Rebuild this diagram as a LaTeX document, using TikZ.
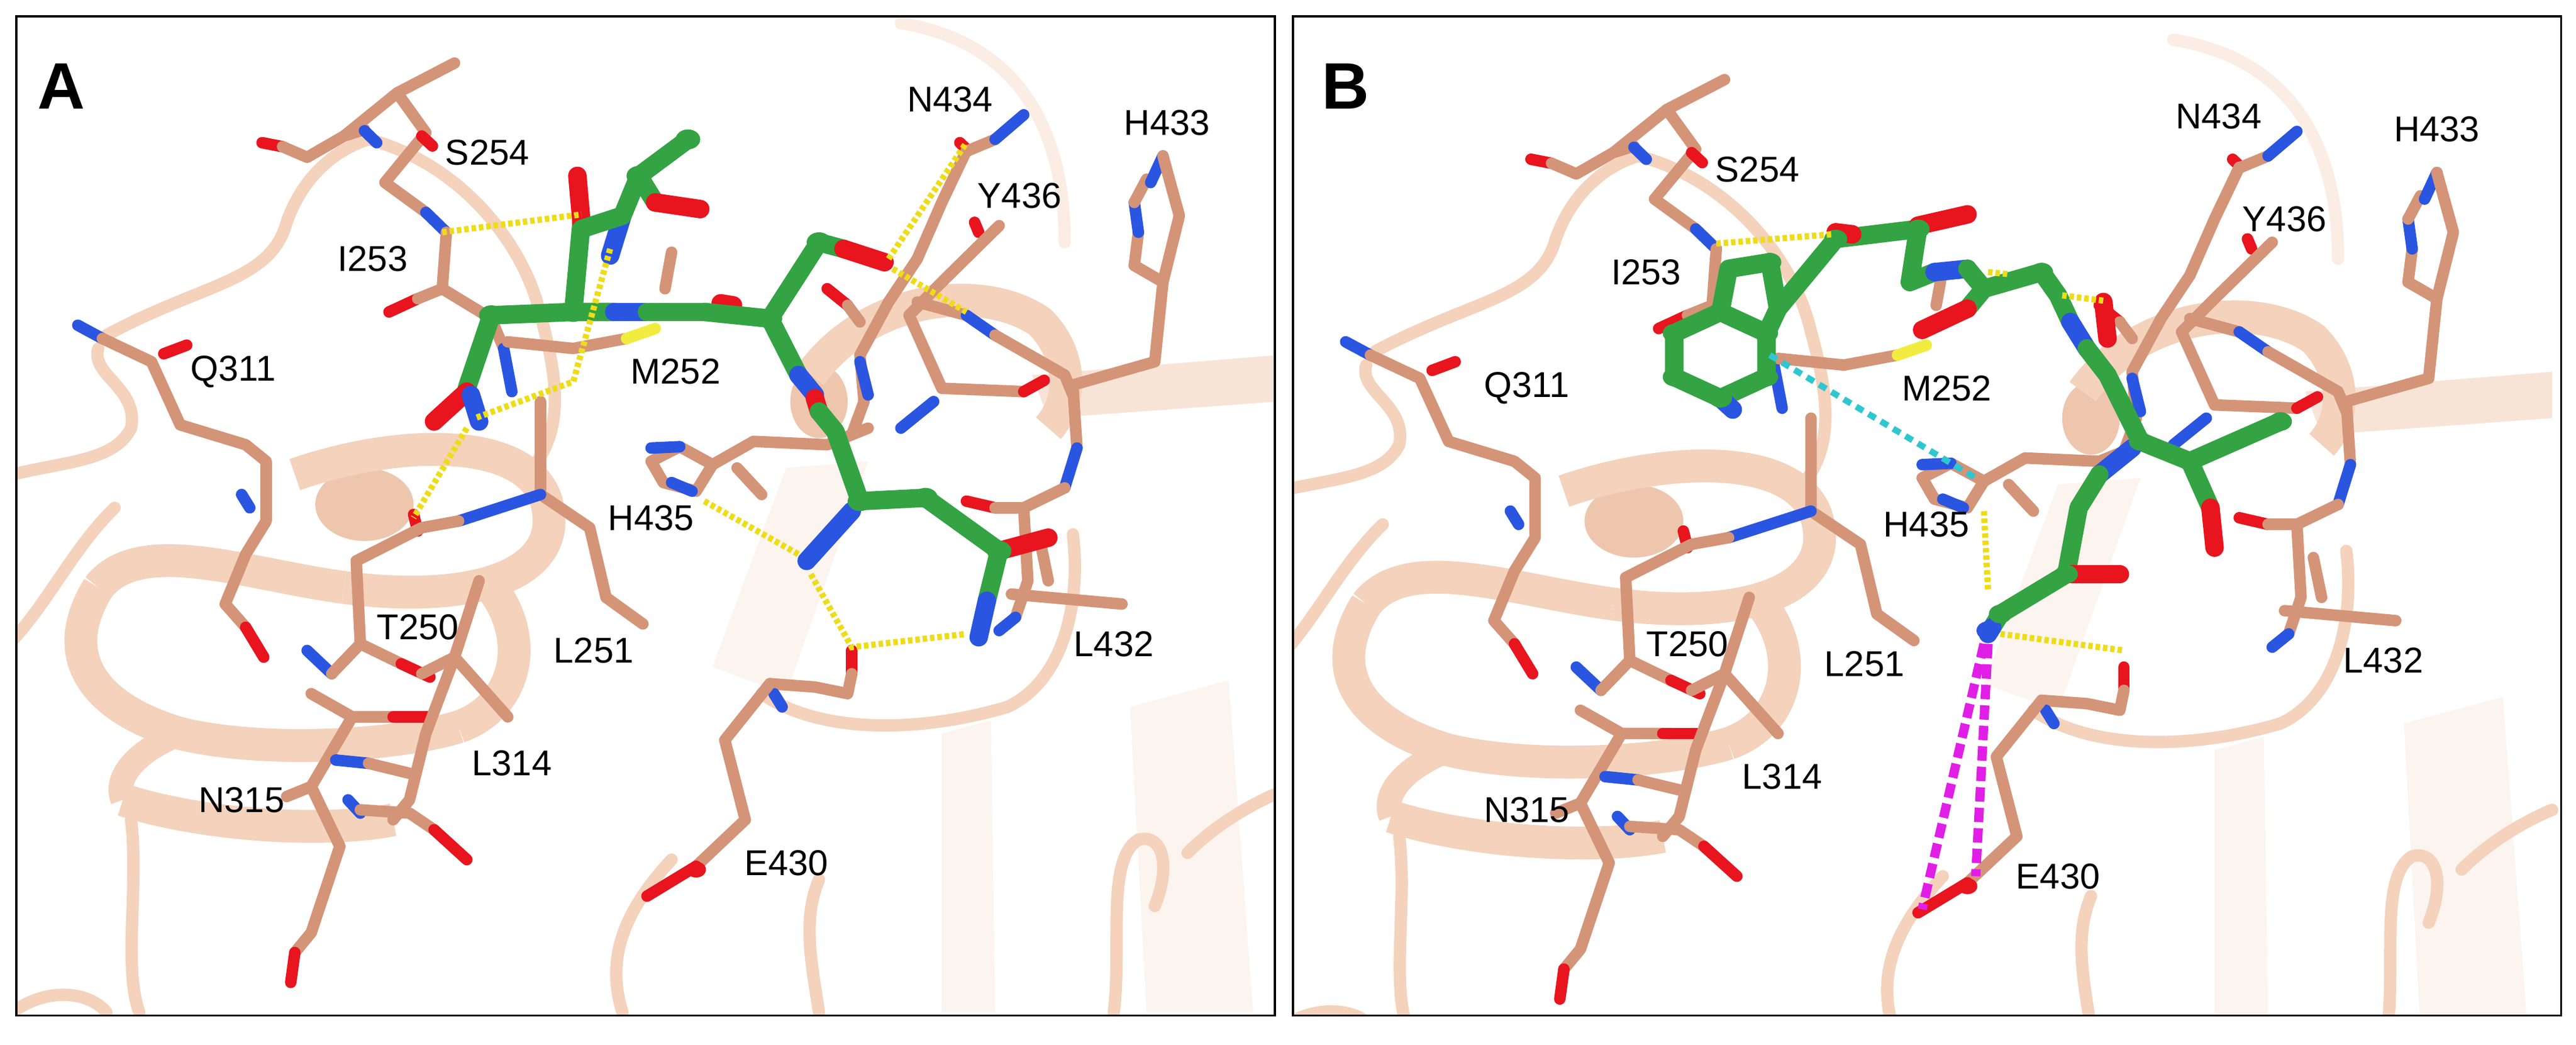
\documentclass[tikz,border=0pt]{standalone}
\usepackage{fontspec}
\setmainfont{Liberation Sans}
\begin{document}
\begin{tikzpicture}[x=0.02815cm,y=-0.02815cm,
 rib/.style={draw=ribc,line width=6pt,line cap=round},
 ribw/.style={draw=ribc,line width=16pt},
 stk/.style={draw=salm,line width=5.6pt,line cap=round,line join=round},
 O/.style={draw=ored,line width=5.6pt,line cap=round},
 N/.style={draw=nblue,line width=5.6pt,line cap=round},
 S/.style={draw=syel,line width=5.6pt,line cap=round},
 lig/.style={draw=ligc,line width=9pt,line cap=round,line join=round},
 ligO/.style={draw=ored,line width=9pt,line cap=round},
 ligN/.style={draw=nblue,line width=9pt,line cap=round},
 ball/.style={fill=ligc},
 hb/.style={draw=hyel,line width=3pt,dash pattern=on 2.2pt off 1.4pt},
 cy/.style={draw=cyn,line width=3pt,dash pattern=on 4pt off 3pt},
 mg/.style={draw=mag,line width=4.5pt,dash pattern=on 7pt off 3pt},
 lab/.style={font=\fontsize{17.5}{19}\selectfont,text=black,inner sep=0pt},
 pl/.style={font=\fontsize{32}{34}\selectfont\bfseries,inner sep=0pt}]
\definecolor{ribc}{HTML}{F4D2BC}
\definecolor{salm}{HTML}{D49478}
\definecolor{ored}{HTML}{E8141E}
\definecolor{nblue}{HTML}{2A55E0}
\definecolor{syel}{HTML}{F2EC40}
\definecolor{ligc}{HTML}{34A343}
\definecolor{hyel}{HTML}{EEDC18}
\definecolor{cyn}{HTML}{2FC6D2}
\definecolor{mag}{HTML}{E01EE6}
\useasboundingbox (0,0) rectangle (1568,636);
\fill[white] (0,0) rectangle (1568,636);
\newcommand{\protein}{%
 % faint sheets
 \fill[ribc!25] (1150,1100) -- (1210,1080) -- (1215,1520) -- (1150,1520) -- cycle;
 \fill[ribc!25] (1380,1060) -- (1500,1020) -- (1530,1520) -- (1400,1520) -- cycle;
 \fill[ribc!25] (870,1000) -- (960,700) -- (1060,690) -- (960,1040) -- cycle;
 \draw[rib,draw=ribc!40] (1100,30) .. controls (1250,60) and (1300,200) .. (1300,360);
 \fill[ribc!60] (1260,560) -- (1560,530) -- (1560,600) -- (1280,625) -- cycle;
 % loops
 \draw[rib] (15,710) .. controls (80,690) and (140,690) .. (160,640) .. controls (170,580) and (110,560) .. (120,520);
 \draw[rib] (15,960) .. controls (60,900) and (90,820) .. (140,760);
 \draw[rib] (130,500) .. controls (250,420) and (330,420) .. (350,330) .. controls (370,260) and (410,220) .. (450,205);
 \draw[rib] (450,205) .. controls (560,240) and (640,360) .. (660,470) .. controls (680,560) and (690,640) .. (650,700);
 \draw[rib] (15,1520) .. controls (60,1480) and (110,1490) .. (130,1520);
 \draw[rib] (160,1230) .. controls (170,1330) and (150,1450) .. (170,1520);
 \draw[rib] (760,1520) .. controls (740,1440) and (760,1370) .. (820,1290);
 \draw[rib] (930,1040) .. controls (1000,1100) and (1120,1100) .. (1230,1060) .. controls (1300,1020) and (1320,900) .. (1310,800);
 \draw[rib] (1360,1520) .. controls (1370,1420) and (1350,1290) .. (1390,1260) .. controls (1420,1250) and (1430,1300) .. (1410,1360);
 \draw[rib] (1450,1280) .. controls (1490,1230) and (1540,1200) .. (1560,1190);
 \draw[rib] (1000,1520) .. controls (990,1440) and (980,1380) .. (1000,1320);
 % helix left
 \fill[ribc!80!salm] (445,755) ellipse (60 and 55);
 \draw[ribw] (360,710) .. controls (500,650) and (680,650) .. (670,790) .. controls (660,880) and (540,900) .. (420,880);
 \draw[ribw] (420,880) .. controls (300,860) and (170,800) .. (120,880);
 \draw[ribw] (120,880) .. controls (70,980) and (110,1060) .. (220,1100) .. controls (320,1130) and (480,1120) .. (560,1090);
 \draw[ribw] (600,880) .. controls (650,960) and (630,1060) .. (560,1090);
 \draw[ribw] (150,1200) .. controls (250,1240) and (400,1250) .. (480,1230);
 \draw[ribw,line width=12pt] (220,1100) .. controls (160,1130) and (140,1170) .. (150,1200);
 % helix right
 \fill[ribc!80!salm] (1000,600) ellipse (35 and 55);
 \draw[ribw] (990,560) .. controls (1060,440) and (1200,420) .. (1270,480) .. controls (1310,530) and (1310,600) .. (1280,640);
 % S254 / I253
 \draw[O] (320,210) -- (345,216);
 \draw[stk] (345,216) -- (375,232) -- (420,200) -- (485,135) -- (520,195) -- (470,270) -- (520,315);
 \draw[stk] (420,200) -- (445,190); \draw[N] (445,192) -- (460,210);
 \draw[stk] (485,135) -- (555,90);
 \draw[O] (515,200) -- (528,215);
 \draw[N] (520,315) -- (545,345);
 \draw[stk] (545,345) -- (540,430) -- (600,475) -- (615,520);
 \draw[O] (475,465) -- (510,445); \draw[stk] (510,445) -- (540,430);
 \draw[N] (615,520) -- (625,585);
 % Q311
 \draw[N] (95,485) -- (125,505);
 \draw[stk] (125,505) -- (185,540) -- (220,635) -- (300,665) -- (325,690) -- (325,780) -- (300,830) -- (275,905) -- (300,940);
 \draw[O] (200,528) -- (228,515); \draw[O] (300,940) -- (322,985);
 \draw[N] (295,740) -- (305,760);
 % T250 / L251
 \draw[stk] (660,600) -- (660,740) -- (720,790) -- (740,895) -- (785,935);
 \draw[N] (660,740) -- (560,780); \draw[stk] (560,780) -- (515,790);
 \draw[O] (505,770) -- (510,795);
 \draw[stk] (515,790) -- (435,840) -- (440,965) -- (490,995);
 \draw[O] (490,995) -- (525,1015);
 \draw[N] (375,975) -- (405,1010); \draw[stk] (405,1010) -- (440,965);
 \draw[stk] (380,1040) -- (430,1075) -- (490,1075);
 \draw[O] (480,1075) -- (525,1075);
 % L314 / N315
 \draw[stk] (585,870) -- (555,985) -- (515,1010);
 \draw[stk] (555,985) -- (620,1075);
 \draw[stk] (555,985) -- (520,1100) -- (500,1200) -- (480,1230);
 \draw[stk] (350,1195) -- (380,1180) -- (430,1075);
 \draw[stk] (380,1180) -- (415,1270) -- (380,1400) -- (360,1430);
 \draw[O] (360,1430) -- (355,1475);
 \draw[N] (410,1140) -- (450,1145); \draw[stk] (450,1145) -- (500,1160);
 \draw[N] (425,1200) -- (440,1220);
 \draw[stk] (440,1215) -- (500,1220) -- (530,1245);
 \draw[O] (530,1245) -- (570,1290);
 % M252
 \draw[stk] (620,510) -- (700,520) -- (765,505);
 \draw[S] (765,505) -- (800,490);
 \draw[stk] (820,375) -- (812,430);
 % H435
 \draw[stk] (795,690) -- (830,668) -- (870,695) -- (850,735) -- (810,722) -- cycle;
 \draw[N] (795,670) -- (830,668); \draw[N] (820,722) -- (845,735);
 \draw[stk] (870,695) -- (920,660) -- (1010,665) -- (1060,640);
 \draw[stk] (900,700) -- (930,740);
 % right side
 \draw[O] (1172,210) -- (1182,222);
 \draw[stk] (1182,222) -- (1215,205); \draw[N] (1215,205) -- (1250,168);
 \draw[stk] (1180,222) -- (1150,300) -- (1120,385) -- (1085,450) -- (1050,530) -- (1055,600) -- (1040,650);
 \draw[N] (1050,540) -- (1060,590);
 \draw[O] (1190,330) -- (1195,345);
 \draw[stk] (1220,335) -- (1150,420) -- (1110,470) -- (1150,580) -- (1250,585);
 \draw[O] (1250,585) -- (1275,568);
 \draw[N] (1100,640) -- (1140,600);
 \draw[O] (1010,430) -- (1035,455); \draw[stk] (1035,455) -- (1050,480);
 \draw[stk] (1120,450) -- (1180,470); \draw[N] (1180,470) -- (1215,500);
 \draw[stk] (1215,500) -- (1300,560) -- (1310,590);
 \draw[stk] (1385,395) -- (1390,345); \draw[N] (1390,345) -- (1385,300);
 \draw[stk] (1385,300) -- (1400,265); \draw[N] (1405,270) -- (1420,230);
 \draw[stk] (1420,230) -- (1440,320) -- (1420,420) -- (1385,395);
 \draw[stk] (1420,420) -- (1410,540) -- (1310,575) -- (1315,670);
 \draw[N] (1315,670) -- (1300,730);
 \draw[stk] (1300,730) -- (1250,760) -- (1255,870) -- (1240,925);
 \draw[O] (1180,750) -- (1215,760); \draw[stk] (1215,760) -- (1250,760);
 \draw[N] (1240,925) -- (1220,945);
 \draw[stk] (1235,890) -- (1370,905);
 \draw[stk] (1270,810) -- (1280,870);
 % E430
 \draw[O] (1040,975) -- (1040,1010);
 \draw[stk] (1040,1010) -- (1035,1040) -- (995,1030) -- (940,1025);
 \draw[N] (945,1040) -- (955,1060);
 \draw[stk] (940,1025) -- (885,1110) -- (910,1230) -- (850,1300);
 \draw[O] (850,1300) -- (790,1345); \draw[fill=ored,draw=none] (850,1305) circle (12);
}
% ========== Panel A ==========
\begin{scope}[shift={(0,2)},xscale=0.4985,yscale=0.404]
 \protein
 \draw[lig] (600,470) -- (700,465) -- (750,465);
 \draw[ligN] (750,465) -- (790,465);
 \draw[lig] (790,465) -- (860,465);
 \draw[ligO] (880,452) -- (895,455);
 \draw[lig] (860,465) -- (940,475) -- (975,560);
 \draw[ligN] (975,560) -- (995,590);
 \draw[ligO] (995,595) -- (1000,615);
 \draw[lig] (1000,615) -- (1020,645) -- (1050,750) -- (1130,745) -- (1220,825);
 \draw[ligO] (1220,825) -- (1280,805);
 \draw[ligN] (1040,765) -- (985,840);
 \draw[lig] (1220,825) -- (1205,900); \draw[ligN] (1205,900) -- (1195,955);
 \draw[lig] (600,470) -- (570,580);
 \draw[ligO] (570,585) -- (530,630); \draw[ligN] (575,590) -- (585,630);
 \draw[lig] (700,465) -- (710,330);
 \draw[ligO] (710,330) -- (705,260);
 \draw[ligN] (745,380) -- (760,320);
 \draw[lig] (710,340) -- (760,320) -- (780,260) -- (840,205);
 \draw[lig] (780,260) -- (800,300);
 \draw[ligO] (800,300) -- (855,310);
 \draw[lig] (940,475) -- (1000,360) -- (1030,370);
 \draw[ligO] (1030,370) -- (1080,390);
 \foreach \p in {(840,205),(780,260),(600,470),(700,465),(940,475),(1000,360),(1050,750),(1130,745),(1220,825)} \fill[ligc] \p circle (15);
 \draw[hb] (540,345) -- (710,318);
 \draw[hb] (745,370) -- (700,570) -- (580,625);
 \draw[hb] (570,640) -- (505,775);
 \draw[hb] (860,750) -- (975,830);
 \draw[hb] (990,860) -- (1040,970) -- (1180,950);
 \draw[hb] (1085,385) -- (1180,210);
 \draw[hb] (1090,400) -- (1180,465);
 \node[pl] (pA) at (75,125) {A};
 \node[lab] (a1) at (595,225) {S254};
 \node[lab] (a2) at (455,385) {I253};
 \node[lab] (a3) at (285,555) {Q311};
 \node[lab] (a4) at (825,555) {M252};
 \node[lab] (a5) at (795,775) {H435};
 \node[lab] (a6) at (510,940) {T250};
 \node[lab] (a7) at (725,975) {L251};
 \node[lab] (a8) at (625,1145) {L314};
 \node[lab] (a9) at (295,1200) {N315};
 \node[lab] (a10) at (960,1295) {E430};
 \node[lab] (a11) at (1360,965) {L432};
 \node[lab] (a12) at (1160,145) {N434};
 \node[lab] (a13) at (1425,180) {H433};
 \node[lab] (a14) at (1245,290) {Y436};
\end{scope}
% ========== Panel B ==========
\begin{scope}[shift={(781.5,2)},xscale=0.5013,yscale=0.404]
 \begin{scope}[shift={(-20,25)}]
  \protein
 \end{scope}
 \draw[lig] (530,465) -- (586,497) -- (586,563) -- (530,595) -- (474,563) -- (474,497) -- cycle;
 \draw[lig] (586,497) -- (600,460) -- (590,390) -- (540,400) -- (530,465);
 \draw[ligN] (530,595) -- (545,612);
 \draw[lig] (600,460) -- (670,355) -- (770,340);
 \draw[ligO] (670,345) -- (690,348);
 \draw[ligO] (770,335) -- (830,318);
 \draw[lig] (770,340) -- (760,420) -- (790,405);
 \draw[ligN] (790,405) -- (830,400);
 \draw[lig] (830,400) -- (850,430) -- (830,460);
 \draw[ligO] (830,460) -- (775,492);
 \draw[lig] (850,430) -- (920,405) -- (940,440) -- (955,480);
 \draw[ligN] (955,480) -- (975,520);
 \draw[ligO] (995,450) -- (1000,505);
 \draw[lig] (975,520) -- (1000,560) -- (1040,660) -- (1100,690) -- (1210,630);
 \draw[lig] (1100,690) -- (1125,760); \draw[ligO] (1125,760) -- (1130,820);
 \draw[ligN] (1030,670) -- (990,710);
 \draw[lig] (990,710) -- (965,760) -- (950,860);
 \draw[ligO] (950,860) -- (1015,860);
 \draw[lig] (950,860) -- (870,920) -- (860,940);
 \draw[ligN] (860,940) -- (855,950);
 \foreach \p in {(530,465),(586,497),(586,563),(530,595),(474,563),(474,497),(590,390),(670,355),(770,340),(920,405),(1040,660),(1100,690),(1210,630),(950,860),(870,920)} \fill[ligc] \p circle (14);
 \fill[nblue] (855,945) circle (14);
 \draw[hb] (525,362) -- (665,348);
 \draw[hb] (855,405) -- (880,408);
 \draw[hb] (945,440) -- (995,448);
 \draw[hb] (850,765) -- (855,885);
 \draw[hb] (870,950) -- (1020,975);
 \draw[cy] (590,530) -- (840,715);
 \draw[mg] (850,965) -- (775,1365);
 \draw[mg] (855,965) -- (840,1315);
 \node[pl] (pB) at (75,125) {B};
 \node[lab] (b1) at (575,250) {S254};
 \node[lab] (b2) at (440,405) {I253};
 \node[lab] (b3) at (295,580) {Q311};
 \node[lab] (b4) at (805,580) {M252};
 \node[lab] (b5) at (780,785) {H435};
 \node[lab] (b6) at (490,965) {T250};
 \node[lab] (b7) at (705,995) {L251};
 \node[lab] (b8) at (605,1165) {L314};
 \node[lab] (b9) at (295,1215) {N315};
 \node[lab] (b10) at (940,1315) {E430};
 \node[lab] (b11) at (1335,990) {L432};
 \node[lab] (b12) at (1135,170) {N434};
 \node[lab] (b13) at (1400,190) {H433};
 \node[lab] (b14) at (1215,325) {Y436};
\end{scope}
\fill[white] (776.5,0) rectangle (787,636);
\fill[white] (1559.5,0) rectangle (1568,636);
\fill[white] (0,618.5) rectangle (1568,636);
\fill[white] (0,0) rectangle (1568,9.5);
\fill[white] (0,0) rectangle (9.5,636);
\draw[black,line width=1pt] (10,10) rectangle (776,618);
\draw[black,line width=1pt] (787,10) rectangle (1559,618);
\end{tikzpicture}
\end{document}
